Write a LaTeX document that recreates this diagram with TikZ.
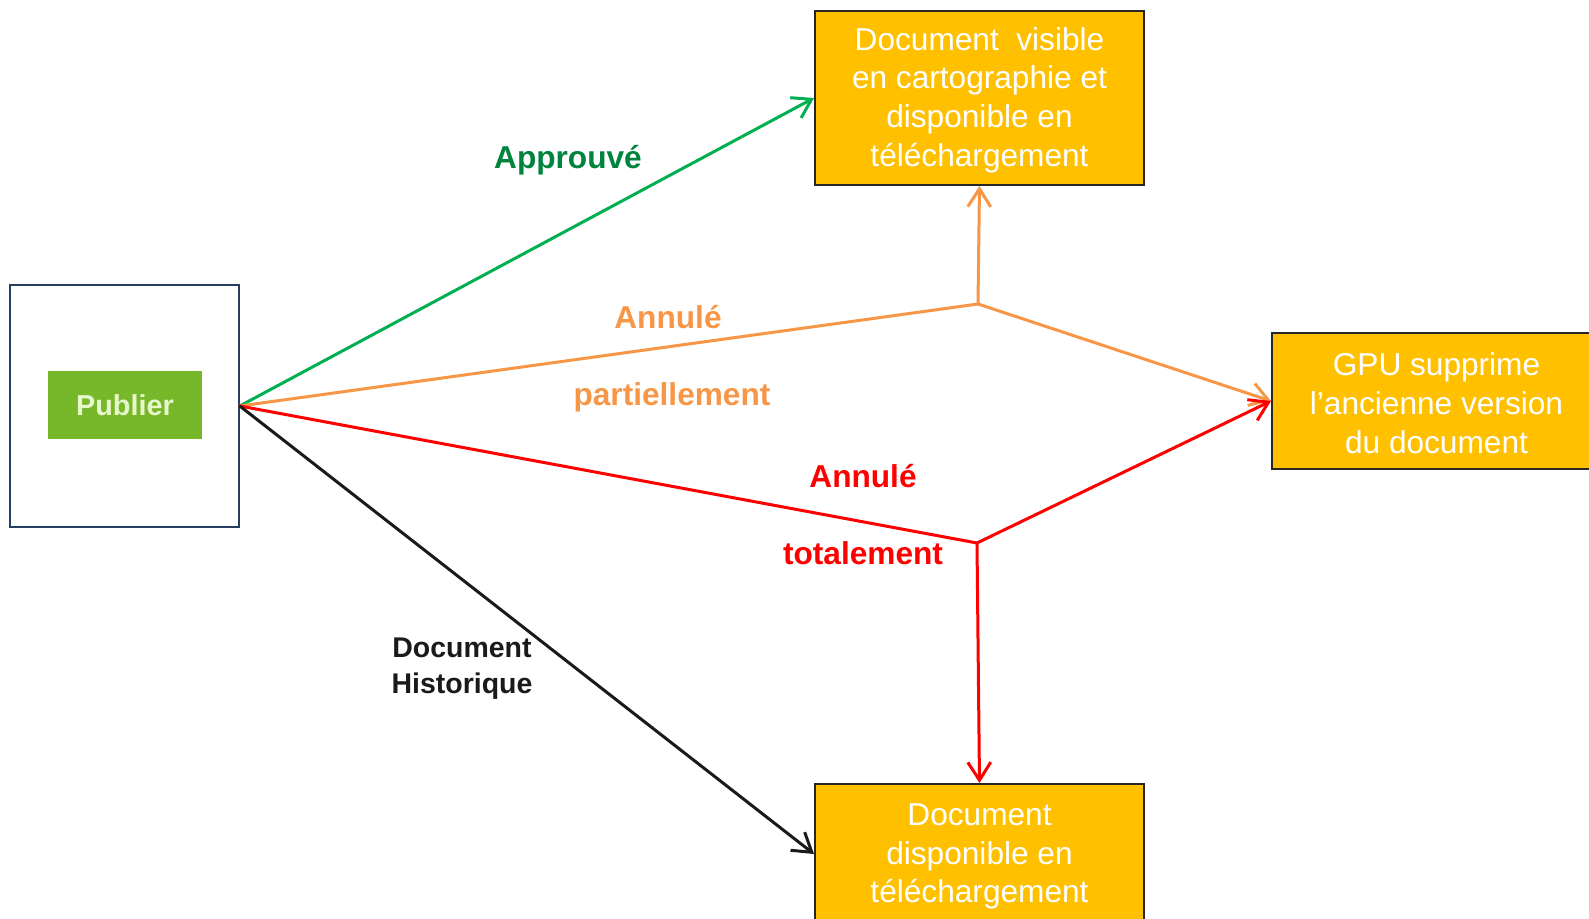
\documentclass[tikz,border=0pt]{standalone}
\usepackage{fontspec}
\setmainfont{Liberation Sans}
\usetikzlibrary{arrows.meta}
\definecolor{boxfill}{HTML}{FFC000}
\definecolor{boxline}{HTML}{262626}
\definecolor{okgreen}{HTML}{00B050}
\definecolor{oktext}{HTML}{00843D}
\definecolor{partorange}{HTML}{F79646}
\definecolor{totalred}{HTML}{FF0000}
\definecolor{histblack}{HTML}{1A1A1A}
\definecolor{publiergreen}{HTML}{76B82A}
\definecolor{publiertext}{HTML}{E8F6CC}
\definecolor{cadreline}{HTML}{243F60}
\tikzset{
  etat/.style={draw=boxline, line width=0.4mm, fill=boxfill, text=white, align=center,
    minimum width=65.8mm, inner sep=0pt, font=\fontsize{18}{22}\selectfont},
  trait/.style={line width=0.6mm, line cap=round},
  fleche/.style={trait, -{Straight Barb[length=3.6mm,width=4.6mm]}},
  lbl/.style={font=\fontsize{18}{21.8}\selectfont\bfseries},
}
\begin{document}
\begin{tikzpicture}[x=0.2mm, y=-0.2mm]
  \useasboundingbox (0,0) rectangle (1589,919);
  \clip (0,0) rectangle (1589,919);
  \node[draw=cadreline, line width=0.3mm, minimum width=45.8mm, minimum height=48.4mm] (cadre) at (124.5,406) {};
  \node[fill=publiergreen, text=publiertext, minimum width=30.8mm, minimum height=13.6mm,
    font=\fontsize{16.4}{20}\selectfont\bfseries] (publier) at (125,405) {Publier};
  \node[etat, minimum height=34.8mm] (visible) at (979.5,98) {\rule{0pt}{5.4mm}Document\ \ visible\\en cartographie et\\disponible en\\téléchargement};
  \node[etat, minimum height=27.2mm] (gpu) at (1436.5,401) {\rule{0pt}{5.4mm}GPU supprime\\l’ancienne version\\du document};
  \node[etat, minimum height=28mm] (telechargement) at (979.5,854) {\rule{0pt}{5.4mm}Document\\disponible en\\téléchargement};
  \coordinate (partiel) at (978,304);
  \coordinate (total) at (977,543);
  \draw[fleche, okgreen] (cadre.east) -- (visible.west);
  \draw[trait, partorange] (cadre.east) -- (partiel);
  \draw[fleche, partorange] (partiel) -- (visible.south);
  \draw[fleche, partorange] (partiel) -- (gpu.west);
  \draw[trait, totalred] (cadre.east) -- (total);
  \draw[fleche, totalred] (total) -- (gpu.west);
  \draw[fleche, totalred] (total) -- (telechargement.north);
  \draw[fleche, histblack] (cadre.east) -- (telechargement.west);
  \node[lbl, text=oktext] (approuve) at (568,160) {Approuvé};
  \node[lbl, text=partorange] (annulep) at (668,317) {Annulé};
  \node[lbl, text=partorange] (partiellement) at (672,397) {partiellement};
  \node[lbl, text=totalred] (annulet) at (863,476) {Annulé};
  \node[lbl, text=totalred] (totalement) at (863,553) {totalement};
  \node[text=histblack, align=center, font=\fontsize{16.2}{20.6}\selectfont\bfseries] (historique) at (462,669) {Document\\Historique};
\end{tikzpicture}
\end{document}
